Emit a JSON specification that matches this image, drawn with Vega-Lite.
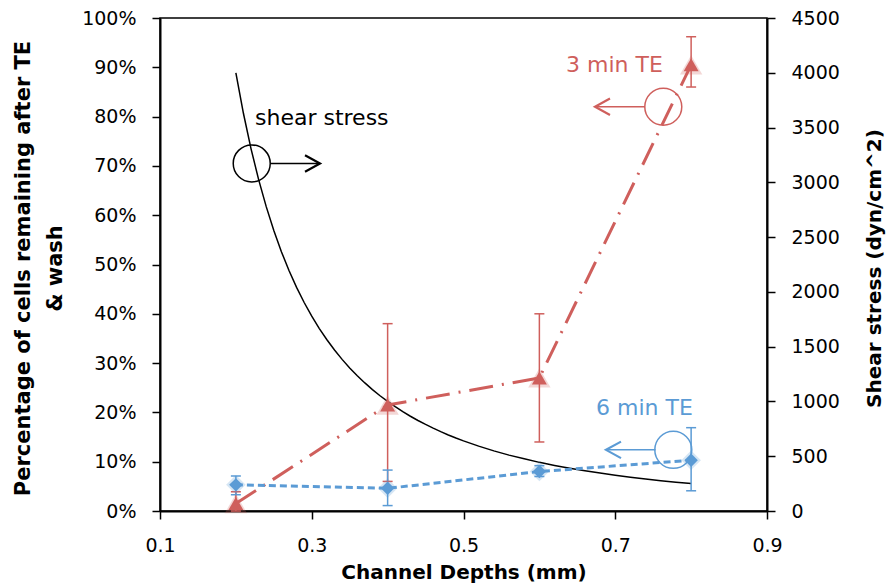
{
  "$schema": "https://vega.github.io/schema/vega-lite/v6.json",
  "width": 607,
  "height": 493,
  "autosize": {"type": "none"},
  "padding": {"left": 160, "top": 18, "right": 122, "bottom": 73},
  "background": "white",
  "config": {
    "font": "DejaVu Sans",
    "view": {"stroke": "black", "strokeWidth": 1.5},
    "axis": {
      "grid": false,
      "labelFlush": false,
      "labelOverlap": false,
      "domainColor": "black",
      "domainWidth": 2,
      "tickColor": "black",
      "tickWidth": 1.5,
      "tickSize": 8,
      "labelColor": "black",
      "labelFont": "DejaVu Sans",
      "labelFontSize": 19,
      "titleFont": "DejaVu Sans",
      "titleFontWeight": "bold",
      "titleFontSize": 20,
      "titleColor": "black"
    }
  },
  "datasets": {
    "shear": [
      {"depth": 0.20, "stress": 4000},
      {"depth": 0.21, "stress": 3628},
      {"depth": 0.22, "stress": 3306},
      {"depth": 0.23, "stress": 3025},
      {"depth": 0.24, "stress": 2778},
      {"depth": 0.25, "stress": 2560},
      {"depth": 0.26, "stress": 2367},
      {"depth": 0.27, "stress": 2195},
      {"depth": 0.28, "stress": 2041},
      {"depth": 0.29, "stress": 1903},
      {"depth": 0.30, "stress": 1778},
      {"depth": 0.31, "stress": 1665},
      {"depth": 0.32, "stress": 1563},
      {"depth": 0.33, "stress": 1469},
      {"depth": 0.34, "stress": 1384},
      {"depth": 0.35, "stress": 1306},
      {"depth": 0.36, "stress": 1235},
      {"depth": 0.37, "stress": 1169},
      {"depth": 0.38, "stress": 1108},
      {"depth": 0.39, "stress": 1052},
      {"depth": 0.40, "stress": 1000},
      {"depth": 0.41, "stress": 952},
      {"depth": 0.42, "stress": 907},
      {"depth": 0.43, "stress": 865},
      {"depth": 0.44, "stress": 826},
      {"depth": 0.45, "stress": 790},
      {"depth": 0.46, "stress": 756},
      {"depth": 0.47, "stress": 724},
      {"depth": 0.48, "stress": 694},
      {"depth": 0.49, "stress": 666},
      {"depth": 0.50, "stress": 640},
      {"depth": 0.52, "stress": 592},
      {"depth": 0.54, "stress": 549},
      {"depth": 0.56, "stress": 510},
      {"depth": 0.58, "stress": 476},
      {"depth": 0.60, "stress": 444},
      {"depth": 0.62, "stress": 416},
      {"depth": 0.64, "stress": 391},
      {"depth": 0.66, "stress": 367},
      {"depth": 0.68, "stress": 346},
      {"depth": 0.70, "stress": 327},
      {"depth": 0.72, "stress": 309},
      {"depth": 0.74, "stress": 292},
      {"depth": 0.76, "stress": 277},
      {"depth": 0.78, "stress": 263},
      {"depth": 0.80, "stress": 250}
    ],
    "te": [
      {"depth": 0.2, "pct": 0.015, "lo": 0.0, "hi": 0.039, "series": "3 min TE"},
      {"depth": 0.4, "pct": 0.215, "lo": 0.06, "hi": 0.38, "series": "3 min TE"},
      {"depth": 0.6, "pct": 0.27, "lo": 0.14, "hi": 0.40, "series": "3 min TE"},
      {"depth": 0.8, "pct": 0.905, "lo": 0.86, "hi": 0.962, "series": "3 min TE"},
      {"depth": 0.2, "pct": 0.053, "lo": 0.033, "hi": 0.071, "series": "6 min TE"},
      {"depth": 0.4, "pct": 0.046, "lo": 0.011, "hi": 0.083, "series": "6 min TE"},
      {"depth": 0.6, "pct": 0.08, "lo": 0.07, "hi": 0.092, "series": "6 min TE"},
      {"depth": 0.8, "pct": 0.103, "lo": 0.041, "hi": 0.169, "series": "6 min TE"}
    ],
    "notes": [
      {"label": "shear stress", "series": "shear stress", "depth": 0.2252, "pct": 0.797},
      {"label": "3 min TE", "series": "3 min TE", "depth": 0.6351, "pct": 0.905},
      {"label": "6 min TE", "series": "6 min TE", "depth": 0.6746, "pct": 0.208}
    ],
    "circles": [
      {"series": "shear stress", "depth": 0.2209, "pct": 0.705},
      {"series": "3 min TE", "depth": 0.7633, "pct": 0.82},
      {"series": "6 min TE", "depth": 0.7765, "pct": 0.124}
    ],
    "arrows": [
      {"series": "shear stress", "start": 0.2459, "tip": 0.3109, "pct": 0.705, "dir": "right"},
      {"series": "3 min TE", "start": 0.7393, "tip": 0.6733, "pct": 0.82, "dir": "left"},
      {"series": "6 min TE", "start": 0.7532, "tip": 0.6878, "pct": 0.124, "dir": "left"}
    ]
  },
  "layer": [
    {
      "data": {"name": "shear"},
      "mark": {"type": "line", "color": "black", "strokeWidth": 1.5},
      "encoding": {
        "x": {
          "field": "depth", "type": "quantitative",
          "scale": {"domain": [0.1, 0.9], "nice": false, "zero": false},
          "axis": {
            "values": [0.1, 0.3, 0.5, 0.7, 0.9], "format": ".1f",
            "labelPadding": 17,
            "title": "Channel Depths (mm)",
            "titleBaseline": "alphabetic", "titleY": 67
          }
        },
        "y": {
          "field": "stress", "type": "quantitative",
          "scale": {"domain": [0, 4500], "nice": false},
          "axis": {
            "orient": "right",
            "values": [0, 500, 1000, 1500, 2000, 2500, 3000, 3500, 4000, 4500],
            "format": "d",
            "labelPadding": 16,
            "title": "Shear stress (dyn/cm^2)",
            "titleAngle": 270, "titleAlign": "center", "titleBaseline": "middle",
            "titleX": 107, "titleY": 250
          }
        }
      }
    },
    {
      "layer": [
        {
          "data": {"name": "te"},
          "transform": [{"filter": "datum.series === '3 min TE'"}],
          "mark": {"type": "line", "strokeWidth": 3, "strokeDash": [24, 9, 2, 9]},
          "encoding": {
            "x": {"field": "depth", "type": "quantitative", "title": "Channel Depths (mm)"},
            "y": {
              "field": "pct", "type": "quantitative",
              "scale": {"domain": [0, 1], "nice": false},
              "title": ["Percentage of cells remaining  after  TE", "& wash"],
              "axis": {
                "orient": "left",
                "values": [0, 0.1, 0.2, 0.3, 0.4, 0.5, 0.6, 0.7, 0.8, 0.9, 1],
                "format": ".0%",
                "labelPadding": 16,
                "titleFontSize": 21,
                "titleAngle": 270, "titleAlign": "center", "titleBaseline": "middle",
                "titleLineHeight": 32,
                "titleX": -137, "titleY": 250
              }
            },
            "color": {
              "field": "series", "type": "nominal",
              "scale": {"domain": ["3 min TE", "6 min TE", "shear stress"], "range": ["#CF5F5C", "#5B9BD5", "#000000"]},
              "legend": null
            }
          }
        },
        {
          "data": {"name": "te"},
          "transform": [{"filter": "datum.series === '6 min TE'"}],
          "mark": {"type": "line", "strokeWidth": 3, "strokeDash": [7, 4]},
          "encoding": {
            "x": {"field": "depth", "type": "quantitative"},
            "y": {"field": "pct", "type": "quantitative"},
            "color": {"field": "series", "type": "nominal", "legend": null}
          }
        },
        {
          "data": {"name": "te"},
          "mark": {"type": "rule", "strokeWidth": 1.5},
          "encoding": {
            "x": {"field": "depth", "type": "quantitative"},
            "y": {"field": "lo", "type": "quantitative"},
            "y2": {"field": "hi"},
            "color": {"field": "series", "type": "nominal", "legend": null}
          }
        },
        {
          "data": {"name": "te"},
          "mark": {"type": "point", "shape": "M-1,0L1,0", "size": 100, "filled": false, "strokeWidth": 1.5, "opacity": 1},
          "encoding": {
            "x": {"field": "depth", "type": "quantitative"},
            "y": {"field": "lo", "type": "quantitative"},
            "color": {"field": "series", "type": "nominal", "legend": null}
          }
        },
        {
          "data": {"name": "te"},
          "mark": {"type": "point", "shape": "M-1,0L1,0", "size": 100, "filled": false, "strokeWidth": 1.5, "opacity": 1},
          "encoding": {
            "x": {"field": "depth", "type": "quantitative"},
            "y": {"field": "hi", "type": "quantitative"},
            "color": {"field": "series", "type": "nominal", "legend": null}
          }
        },
        {
          "data": {"name": "te"},
          "transform": [{"filter": "datum.series === '3 min TE'"}],
          "mark": {"type": "point", "shape": "triangle-up", "size": 500, "filled": true, "opacity": 0.25},
          "encoding": {
            "x": {"field": "depth", "type": "quantitative"},
            "y": {"field": "pct", "type": "quantitative"},
            "color": {"field": "series", "type": "nominal", "legend": null}
          }
        },
        {
          "data": {"name": "te"},
          "transform": [{"filter": "datum.series === '3 min TE'"}],
          "mark": {"type": "point", "shape": "triangle-up", "size": 225, "filled": true, "opacity": 1},
          "encoding": {
            "x": {"field": "depth", "type": "quantitative"},
            "y": {"field": "pct", "type": "quantitative"},
            "color": {"field": "series", "type": "nominal", "legend": null}
          }
        },
        {
          "data": {"name": "te"},
          "transform": [{"filter": "datum.series === '6 min TE'"}],
          "mark": {"type": "point", "shape": "diamond", "size": 380, "filled": true, "opacity": 0.25},
          "encoding": {
            "x": {"field": "depth", "type": "quantitative"},
            "y": {"field": "pct", "type": "quantitative"},
            "color": {"field": "series", "type": "nominal", "legend": null}
          }
        },
        {
          "data": {"name": "te"},
          "transform": [{"filter": "datum.series === '6 min TE'"}],
          "mark": {"type": "point", "shape": "diamond", "size": 180, "filled": true, "opacity": 1},
          "encoding": {
            "x": {"field": "depth", "type": "quantitative"},
            "y": {"field": "pct", "type": "quantitative"},
            "color": {"field": "series", "type": "nominal", "legend": null}
          }
        },
        {
          "data": {"name": "notes"},
          "mark": {"type": "text", "align": "left", "baseline": "middle", "fontSize": 22, "font": "DejaVu Sans"},
          "encoding": {
            "x": {"field": "depth", "type": "quantitative"},
            "y": {"field": "pct", "type": "quantitative"},
            "text": {"field": "label"},
            "color": {"field": "series", "type": "nominal", "legend": null}
          }
        },
        {
          "data": {"name": "circles"},
          "mark": {"type": "point", "shape": "circle", "size": 1369, "filled": false, "strokeWidth": 1.5, "opacity": 1},
          "encoding": {
            "x": {"field": "depth", "type": "quantitative"},
            "y": {"field": "pct", "type": "quantitative"},
            "color": {"field": "series", "type": "nominal", "legend": null}
          }
        },
        {
          "data": {"name": "arrows"},
          "mark": {"type": "rule", "strokeWidth": 1.5},
          "encoding": {
            "x": {"field": "start", "type": "quantitative"},
            "x2": {"field": "tip"},
            "y": {"field": "pct", "type": "quantitative"},
            "color": {"field": "series", "type": "nominal", "legend": null}
          }
        },
        {
          "data": {"name": "arrows"},
          "mark": {"type": "point", "size": 900, "filled": false, "strokeWidth": 2.2, "opacity": 1},
          "encoding": {
            "x": {"field": "tip", "type": "quantitative"},
            "y": {"field": "pct", "type": "quantitative"},
            "shape": {
              "field": "dir", "type": "nominal",
              "scale": {"domain": ["right", "left"], "range": ["M-1,-0.55L0,0L-1,0.55", "M1,-0.55L0,0L1,0.55"]},
              "legend": null
            },
            "color": {"field": "series", "type": "nominal", "legend": null}
          }
        }
      ]
    }
  ],
  "resolve": {"scale": {"y": "independent"}}
}
